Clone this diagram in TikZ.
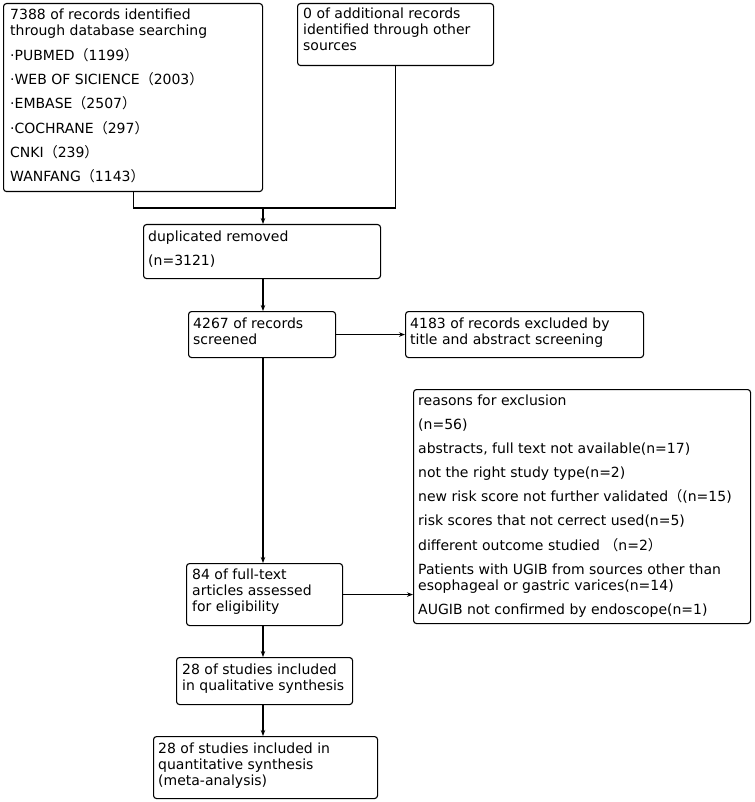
\documentclass[tikz,border=0pt]{standalone}
\usepackage{fontspec}
\setmainfont{DejaVu Sans}
\newfontfamily\cjk{Noto Sans CJK SC}
\usetikzlibrary{arrows.meta}
\newcommand{\flp}{{\cjk （}}
\newcommand{\frp}{{\cjk ）}}
\newcommand{\tb}[1]{\begin{tabular}[t]{@{}l@{}}#1\end{tabular}}
\begin{document}
\begin{tikzpicture}[x=1pt,y=-1pt,
  box/.style={draw, line width=1.1pt, rounded corners=3pt, inner sep=0pt, anchor=north west},
  txt/.style={anchor=base west, inner sep=0pt, font=\fontsize{14}{16}\selectfont},
  arr/.style={line width=1.1pt, -{Stealth[length=6pt,width=4.5pt]}},
  ln/.style={line width=1.1pt}]
\useasboundingbox (0,0) rectangle (754,802);
\fill[white] (0,0) rectangle (754,802);
% boxes
\node[box, minimum width=259pt, minimum height=188pt] (b1) at (3,3) {};
\node[box, minimum width=196pt, minimum height=62pt] (b2) at (297,3) {};
\node[box, minimum width=237pt, minimum height=54pt] (b3) at (143,224) {};
\node[box, minimum width=147pt, minimum height=46pt] (b4) at (188,311) {};
\node[box, minimum width=238pt, minimum height=46pt] (b5) at (405,311) {};
\node[box, minimum width=337pt, minimum height=234pt] (b6) at (413,389) {};
\node[box, minimum width=156pt, minimum height=62pt] (b7) at (186,563) {};
\node[box, minimum width=176pt, minimum height=47pt] (b8) at (176,657) {};
\node[box, minimum width=224pt, minimum height=62pt] (b9) at (153,736) {};
% texts
\node[txt] (t1) at (10,20) {\tb{7388 of records identified\\through database searching\\[7.5pt]
·PUBMED\flp1199\frp\\[7.5pt]·WEB OF SICIENCE\flp2003\frp\\[7.5pt]·EMBASE\flp2507\frp\\[7.5pt]
·COCHRANE\flp297\frp\\[7.5pt]CNKI\flp239\frp\\[7.5pt]WANFANG\flp1143\frp}};
\node[txt] (t2) at (303,19) {\tb{0 of additional records\\identified through other\\sources}};
\node[txt] (t3) at (148,241) {\tb{duplicated removed\\[8pt](n=3121)}};
\node[txt] (t4) at (193,328) {\tb{4267 of records\\screened}};
\node[txt] (t5) at (410,328) {\tb{4183 of records excluded by\\title and abstract screening}};
\node[txt] (t6) at (418,405) {\tb{reasons for exclusion\\[8pt](n=56)\\[8pt]abstracts, full text not available(n=17)\\[8pt]
not the right study type(n=2)\\[8pt]new risk score not further validated\flp(n=15)\\[8pt]
risk scores that not cerrect used(n=5)\\[8pt]different outcome studied \flp n=2\frp\\[8pt]
Patients with UGIB from sources other than\\esophageal or gastric varices(n=14)\\[8pt]
AUGIB not confirmed by endoscope(n=1)}};
\node[txt] (t7) at (192,579) {\tb{84 of full-text\\articles assessed\\for eligibility}};
\node[txt] (t8) at (182,674) {\tb{28 of studies included\\in qualitative synthesis}};
\node[txt] (t9) at (158,753) {\tb{28 of studies included in\\quantitative synthesis\\(meta-analysis)}};
% connectors
\coordinate (j) at (263,208);
\draw[ln] (b1.south) |- (j) -| (b2.south);
\draw[arr] (j) -- (j |- b3.north);
\draw[arr] (j |- b3.south) -- (j |- b4.north);
\draw[arr] (j |- b4.south) -- (j |- b7.north);
\draw[arr] (j |- b7.south) -- (j |- b8.north);
\draw[arr] (j |- b8.south) -- (j |- b9.north);
\draw[arr] (b4.east) -- (b4.east -| b5.west);
\draw[arr] (b7.east) -- (b7.east -| b6.west);
\end{tikzpicture}
\end{document}
